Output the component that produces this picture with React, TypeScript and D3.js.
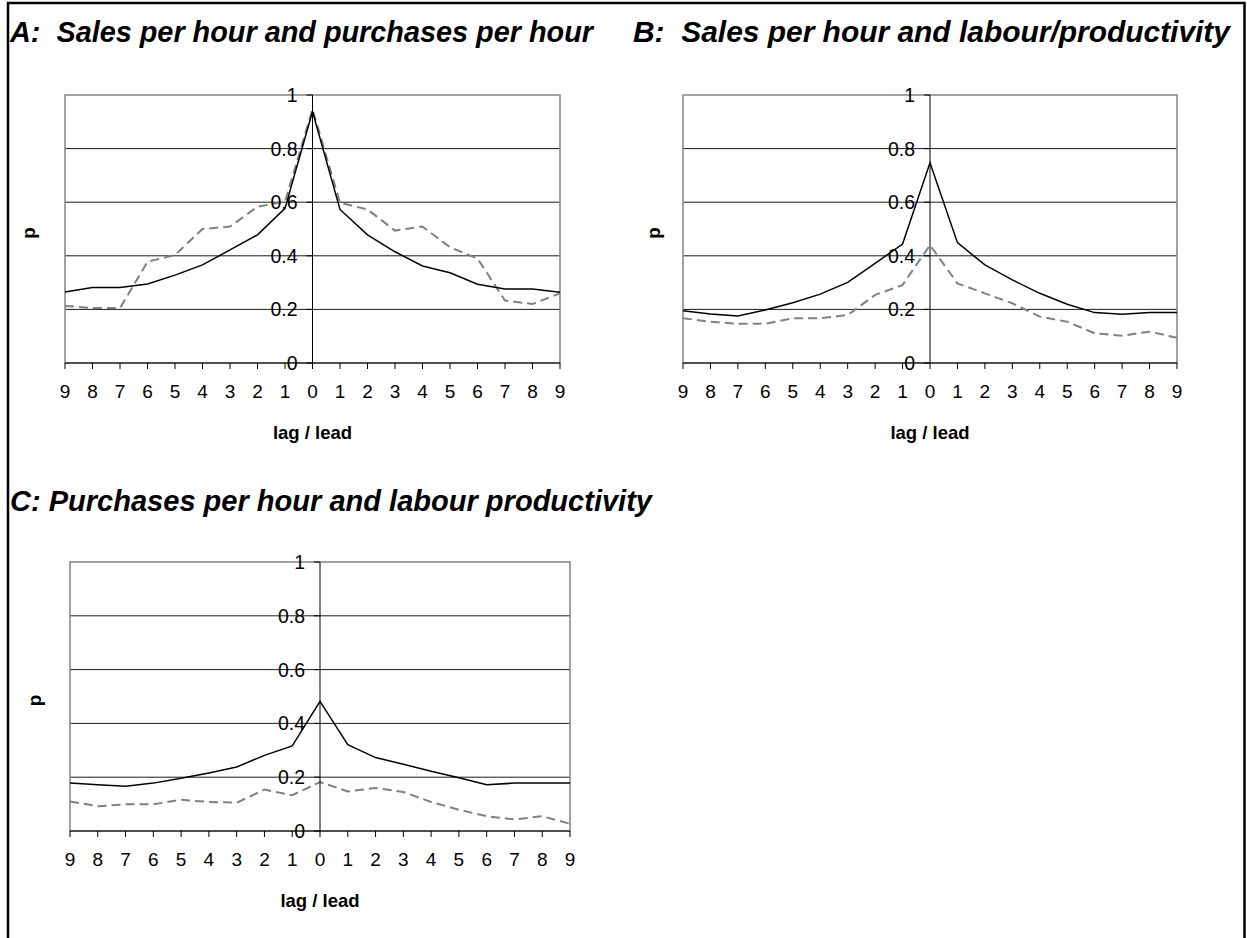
import React from "react";
import * as d3 from "d3";

const lags: number[] = [-9, -8, -7, -6, -5, -4, -3, -2, -1, 0, 1, 2, 3, 4, 5, 6, 7, 8, 9];
const xTickLabels: string[] = ["9", "8", "7", "6", "5", "4", "3", "2", "1", "0", "1", "2", "3", "4", "5", "6", "7", "8", "9"];
const yTicks: number[] = [0, 0.2, 0.4, 0.6, 0.8, 1];

const aSolid: number[] = [0.265, 0.282, 0.282, 0.295, 0.328, 0.366, 0.422, 0.478, 0.577, 0.938, 0.573, 0.478, 0.415, 0.362, 0.337, 0.294, 0.276, 0.276, 0.264];
const aDashed: number[] = [0.213, 0.205, 0.205, 0.378, 0.403, 0.5, 0.509, 0.583, 0.602, 0.947, 0.598, 0.573, 0.494, 0.509, 0.432, 0.39, 0.233, 0.22, 0.26];

const bSolid: number[] = [0.195, 0.183, 0.175, 0.198, 0.225, 0.257, 0.301, 0.372, 0.444, 0.747, 0.449, 0.366, 0.31, 0.26, 0.219, 0.188, 0.182, 0.188, 0.188];
const bDashed: number[] = [0.167, 0.154, 0.146, 0.146, 0.167, 0.167, 0.179, 0.254, 0.291, 0.44, 0.297, 0.26, 0.223, 0.173, 0.154, 0.111, 0.102, 0.117, 0.094];

const cSolid: number[] = [0.178, 0.172, 0.166, 0.178, 0.196, 0.216, 0.238, 0.281, 0.316, 0.482, 0.321, 0.273, 0.248, 0.222, 0.198, 0.172, 0.178, 0.178, 0.178];
const cDashed: number[] = [0.11, 0.092, 0.099, 0.099, 0.116, 0.108, 0.105, 0.154, 0.133, 0.182, 0.147, 0.16, 0.145, 0.108, 0.079, 0.055, 0.043, 0.055, 0.027];

const titles: string[] = [
  "A:  Sales per hour and purchases per hour",
  "B:  Sales per hour and labour/productivity",
  "C: Purchases per hour and labour productivity",
];
const yLabel = "p";
const xLabel = "lag / lead";

const FONT = "Arial, 'Liberation Sans', sans-serif";

type PanelProps = {
  left: number;
  right: number;
  top: number;
  bottom: number;
  solid: number[];
  dashed: number[];
  pLabelX: number;
};

function Panel({ left, right, top, bottom, solid, dashed, pLabelX }: PanelProps) {
  const x = d3.scalePoint<number>().domain(lags).range([left, right]);
  const y = d3.scaleLinear().domain([0, 1]).range([bottom, top]);
  const x0 = x(0) as number;
  const line = d3
    .line<number>()
    .x((_, i) => x(lags[i]) as number)
    .y((d) => y(d));
  const fmt = (d: number) => String(+d.toFixed(1));
  return (
    <g>
      {yTicks
        .filter((t) => t > 0 && t < 1)
        .map((t) => (
          <line key={"g" + t} x1={left} x2={right} y1={y(t)} y2={y(t)} stroke="#1a1a1a" strokeWidth={1} />
        ))}
      <rect x={left} y={top} width={right - left} height={bottom - top} fill="none" stroke="#8a8a8a" strokeWidth={1.6} />
      <path d={line(dashed) || ""} fill="none" stroke="#808080" strokeWidth={2} strokeDasharray="9,5" />
      <path d={line(solid) || ""} fill="none" stroke="#000" strokeWidth={1.5} />
      <line x1={x0} x2={x0} y1={top} y2={bottom} stroke="#000" strokeWidth={1} />
      {yTicks.map((t) => (
        <g key={"yt" + t}>
          <line x1={x0 - 6} x2={x0} y1={y(t)} y2={y(t)} stroke="#000" strokeWidth={1} />
          <text x={x0 - 15} y={y(t)} dy="0.36em" textAnchor="end" fontFamily={FONT} fontSize={19.5} fill="#000">
            {fmt(t)}
          </text>
        </g>
      ))}
      <line x1={left} x2={right} y1={bottom} y2={bottom} stroke="#000" strokeWidth={1.2} />
      {lags.map((l, i) => (
        <g key={"xt" + l}>
          <line x1={x(l) as number} x2={x(l) as number} y1={bottom} y2={bottom + 6} stroke="#000" strokeWidth={1} />
          <text x={x(l) as number} y={bottom + 35} textAnchor="middle" fontFamily={FONT} fontSize={19} fill="#000">
            {xTickLabels[i]}
          </text>
        </g>
      ))}
      <text x={x0} y={bottom + 76} textAnchor="middle" fontFamily={FONT} fontSize={18.5} fontWeight="bold" fill="#000">
        {xLabel}
      </text>
      <text
        transform={`translate(${pLabelX},${(top + bottom) / 2 + 4}) rotate(-90)`}
        textAnchor="middle"
        fontFamily={FONT}
        fontSize={19}
        fontWeight="bold"
        fill="#000"
      >
        {yLabel}
      </text>
    </g>
  );
}

const titleStyle: React.CSSProperties = { whiteSpace: "pre" };

export default function App() {
  return (
    <svg
      width={1247}
      height={938}
      style={{ position: "absolute", left: 0, top: 0, background: "#fff" }}
    >
      <rect x={0} y={0} width={1247} height={938} fill="#fff" />
      <path d="M8,940 L8,3 L1244.5,3 L1244.5,940" fill="none" stroke="#000" strokeWidth={2.5} />
      <text x={10} y={42} style={titleStyle} textLength={583} lengthAdjust="spacingAndGlyphs" fontFamily={FONT} fontSize={29} fontWeight="bold" fontStyle="italic" fill="#000">
        {titles[0]}
      </text>
      <text x={633} y={42} style={titleStyle} textLength={597} lengthAdjust="spacingAndGlyphs" fontFamily={FONT} fontSize={29} fontWeight="bold" fontStyle="italic" fill="#000">
        {titles[1]}
      </text>
      <text x={10} y={511} style={titleStyle} textLength={642} lengthAdjust="spacingAndGlyphs" fontFamily={FONT} fontSize={29} fontWeight="bold" fontStyle="italic" fill="#000">
        {titles[2]}
      </text>
      <Panel left={65} right={560} top={95} bottom={363} solid={aSolid} dashed={aDashed} pLabelX={35} />
      <Panel left={683} right={1177} top={95} bottom={363} solid={bSolid} dashed={bDashed} pLabelX={660} />
      <Panel left={70} right={570} top={562} bottom={831} solid={cSolid} dashed={cDashed} pLabelX={41} />
    </svg>
  );
}
